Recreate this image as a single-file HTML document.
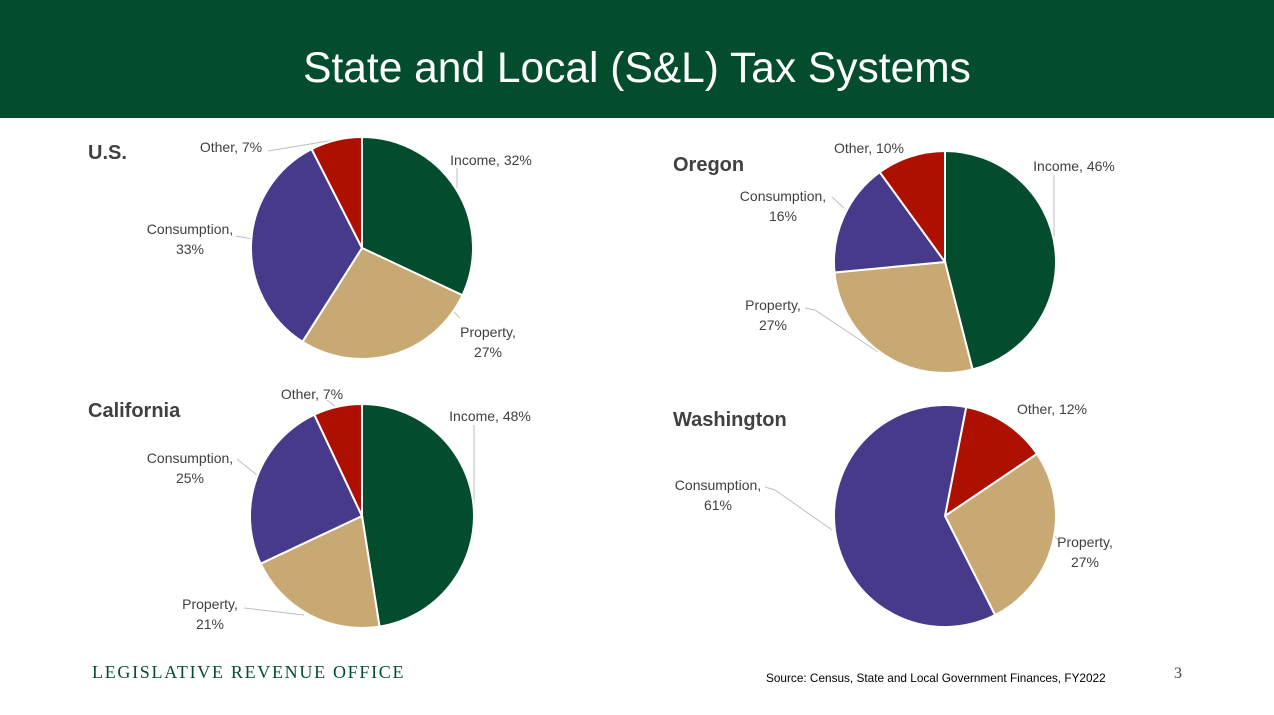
<!DOCTYPE html>
<html><head><meta charset="utf-8"><style>
body{margin:0;width:1274px;height:715px;background:#fff;overflow:hidden;font-family:"Liberation Sans",sans-serif}
.hdr{position:absolute;left:0;top:0;width:1274px;height:118px;background:#034d2e}
.title{position:absolute;top:45px;width:1274px;text-align:center;color:#fff;font-size:42.5px}
svg{position:absolute;left:0;top:0}
</style></head><body>
<div class="hdr"><div class="title">State and Local (S&amp;L) Tax Systems</div></div>
<svg id="s" width="1274" height="715" font-family="Liberation Sans, sans-serif">
<g font-weight="bold" font-size="20" fill="#404040">
<text x="88" y="159">U.S.</text>
<text x="673" y="171">Oregon</text>
<text x="88" y="417">California</text>
<text x="673" y="426">Washington</text>
</g>
<g fill="none" stroke="#bfbfbf" stroke-width="1">
<polyline points="268,151 334,140"/>
<polyline points="457,168 457,188"/>
<polyline points="236,236 258,240"/>
<polyline points="460,318 450,308"/>
<polyline points="832,197 844,208"/>
<polyline points="805,308 815,310 878,352"/>
<polyline points="1054,175 1054,250"/>
<polyline points="327,400 336,407"/>
<polyline points="237,459 258,476"/>
<polyline points="474,425 474,505"/>
<polyline points="244,608 304,615"/>
<polyline points="765,487 775,490 832,530"/>
<polyline points="1058,540 1050,530"/>
</g>
<g font-size="14" fill="#404040" text-anchor="middle">
<text x="231" y="152">Other, 7%</text>
<text x="491" y="165">Income, 32%</text>
<text x="190" y="234">Consumption,</text><text x="190" y="254">33%</text>
<text x="488" y="337">Property,</text><text x="488" y="357">27%</text>
<text x="869" y="153">Other, 10%</text>
<text x="1074" y="171">Income, 46%</text>
<text x="783" y="201">Consumption,</text><text x="783" y="221">16%</text>
<text x="773" y="310">Property,</text><text x="773" y="330">27%</text>
<text x="312" y="399">Other, 7%</text>
<text x="490" y="421">Income, 48%</text>
<text x="190" y="463">Consumption,</text><text x="190" y="483">25%</text>
<text x="210" y="609">Property,</text><text x="210" y="629">21%</text>
<text x="1052" y="414">Other, 12%</text>
<text x="718" y="490">Consumption,</text><text x="718" y="510">61%</text>
<text x="1085" y="547">Property,</text><text x="1085" y="567">27%</text>
</g>
<text x="92" y="678" font-family="Liberation Serif, serif" font-size="18" letter-spacing="1.7" fill="#034d2e">LEGISLATIVE REVENUE OFFICE</text>
<text x="766" y="682" font-size="11.8" fill="#000">Source: Census, State and Local Government Finances, FY2022</text>
<text x="1174" y="678" font-family="Liberation Serif, serif" font-size="16" fill="#404040">3</text>
</svg>
<script>
var C={g:"#034d2e",t:"#c8a974",p:"#483a8a",r:"#ae1000"};
function pie(cx,cy,r,start,segs){
 var s=document.getElementById('s'),a=start;
 segs.forEach(function(x){
  var a0=a*Math.PI/180,a1=(a+x[1]*3.6)*Math.PI/180;
  var p=document.createElementNS("http://www.w3.org/2000/svg","path");
  var x0=cx+r*Math.sin(a0),y0=cy-r*Math.cos(a0),x1=cx+r*Math.sin(a1),y1=cy-r*Math.cos(a1);
  p.setAttribute("d","M"+cx+","+cy+"L"+x0+","+y0+"A"+r+","+r+" 0 "+(x[1]>50?1:0)+" 1 "+x1+","+y1+"Z");
  p.setAttribute("fill",C[x[0]]);p.setAttribute("stroke","#fff");p.setAttribute("stroke-width","2");
  s.appendChild(p);a+=x[1]*3.6;
 });
}
pie(362,248,111,0,[["g",32],["t",27],["p",33.5],["r",7.5]]);
pie(945,262,111,0,[["g",46],["t",27.5],["p",16.5],["r",10]]);
pie(362,516,112,0,[["g",47.5],["t",20.5],["p",25],["r",7]]);
pie(945,516,111,11,[["r",12.5],["t",27],["p",60.5]]);
</script>
</body></html>
